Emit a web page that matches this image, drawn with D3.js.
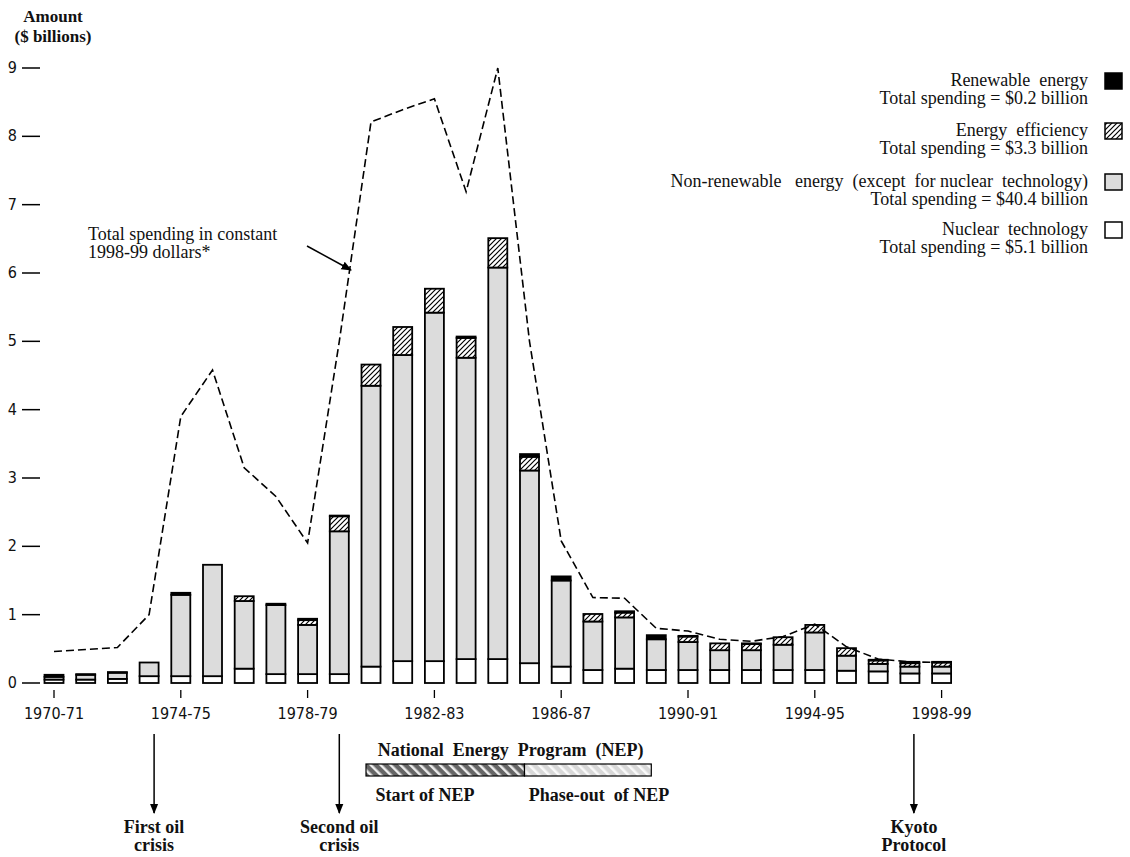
<!DOCTYPE html>
<html>
<head>
    <meta charset="utf-8">
    <script src="https://d3js.org/d3.v7.min.js"></script>
    <style>
        body { margin: 0; background: #fff; }
        svg { display: block; }
        text { white-space: pre; }
        .tick-text { font-family: "DejaVu Sans Condensed", "DejaVu Sans", sans-serif; font-stretch: condensed; font-size: 16px; fill: #111; }
        .note { font-family: "Liberation Serif", "DejaVu Serif", serif; font-size: 18px; fill: #111; }
        .bold { font-family: "Liberation Serif", "DejaVu Serif", serif; font-size: 18px; font-weight: bold; fill: #111; }
    </style>
</head>
<body>
<script>
/* chart data ($ billions) */
var years = ["1970-71","1971-72","1972-73","1973-74","1974-75","1975-76","1976-77","1977-78",
    "1978-79","1979-80","1980-81","1981-82","1982-83","1983-84","1984-85","1985-86","1986-87",
    "1987-88","1988-89","1989-90","1990-91","1991-92","1992-93","1993-94","1994-95","1995-96",
    "1996-97","1997-98","1998-99"];
var nuclear      = [0.05,0.05,0.06,0.10,0.10,0.10,0.21,0.13,0.13,0.13,0.24,0.32,0.32,0.35,0.35,0.29,0.24,
    0.19,0.21,0.19,0.19,0.19,0.19,0.19,0.19,0.18,0.17,0.14,0.14];
var nonRenewable = [0.04,0.07,0.09,0.20,1.19,1.63,0.99,1.01,0.72,2.09,4.11,4.48,5.10,4.41,5.73,2.82,1.26,
    0.71,0.75,0.45,0.41,0.29,0.29,0.37,0.55,0.22,0.11,0.10,0.10];
var efficiency   = [0,0,0,0,0,0,0.07,0,0.07,0.22,0.31,0.41,0.35,0.29,0.43,0.20,0,
    0.11,0.07,0,0.08,0.10,0.09,0.11,0.11,0.11,0.05,0.05,0.06];
var renewable    = [0.03,0.01,0.01,0,0.03,0,0,0.02,0.02,0.01,0,0,0,0.02,0,0.04,0.06,
    0,0.02,0.06,0.01,0,0.01,0,0,0,0.01,0.02,0.01];
var constantTotal = [0.46,0.49,0.52,1.0,3.9,4.58,3.15,2.73,2.05,5.0,8.21,8.39,8.55,7.19,9.0,5.0,2.08,
    1.25,1.24,0.8,0.76,0.64,0.61,0.68,0.86,0.53,0.35,0.31,0.3];
var yTicks = [0,1,2,3,4,5,6,7,8,9];
var xTickLabels = ["1970-71","1974-75","1978-79","1982-83","1986-87","1990-91","1994-95","1998-99"];

var legendItems = [
    {key: "renewable",    name: "Renewable  energy", total: "Total spending = $0.2 billion"},
    {key: "efficiency",   name: "Energy  efficiency", total: "Total spending = $3.3 billion"},
    {key: "nonRenewable", name: "Non-renewable   energy  (except  for nuclear  technology)", total: "Total spending = $40.4 billion"},
    {key: "nuclear",      name: "Nuclear  technology", total: "Total spending = $5.1 billion"}
];

/*global settings*/
var width = 1130;
var height = 857;
var barWidth = 19;
var keys = ["nuclear","nonRenewable","efficiency","renewable"];

var table = years.map(function(y, i){
    return {year: y, nuclear: nuclear[i], nonRenewable: nonRenewable[i],
        efficiency: efficiency[i], renewable: renewable[i], constant: constantTotal[i]};
});

var svg = d3.select("body").append("svg")
    .attr("width", width).attr("height", height);

/*patterns*/
var defs = svg.append("defs");
var hatch = defs.append("pattern").attr("id", "hatch")
    .attr("patternUnits", "userSpaceOnUse").attr("width", 5).attr("height", 5);
hatch.append("rect").attr("width", 5).attr("height", 5).attr("fill", "#fff");
hatch.append("path").attr("d", "M0,5 L5,0 M-1,1 L1,-1 M4,6 L6,4")
    .attr("stroke", "#000").attr("stroke-width", 1.2);

var nepDark = defs.append("pattern").attr("id", "nepDark")
    .attr("patternUnits", "userSpaceOnUse").attr("width", 7).attr("height", 7)
    .attr("patternTransform", "rotate(-45)");
nepDark.append("rect").attr("width", 7).attr("height", 7).attr("fill", "#666");
nepDark.append("rect").attr("width", 2.5).attr("height", 7).attr("fill", "#eee");

var nepLight = defs.append("pattern").attr("id", "nepLight")
    .attr("patternUnits", "userSpaceOnUse").attr("width", 7).attr("height", 7)
    .attr("patternTransform", "rotate(-45)");
nepLight.append("rect").attr("width", 7).attr("height", 7).attr("fill", "#d8d8d8");
nepLight.append("rect").attr("width", 2.5).attr("height", 7).attr("fill", "#fafafa");

var fills = {nuclear: "#fff", nonRenewable: "#dcdcdc", efficiency: "url(#hatch)", renewable: "#000"};

/*scales*/
var x = d3.scalePoint().domain(years).range([54, 941.6]);
var y = d3.scaleLinear().domain([0, 9]).range([683, 68]);

/*y axis: labels with a dash*/
var yAxis = svg.append("g").attr("class", "y-axis");
yTicks.forEach(function(t){
    yAxis.append("text").attr("class", "tick-text")
        .attr("x", 17).attr("y", y(t) + 5).attr("text-anchor", "end").text(t);
    yAxis.append("line").attr("x1", 22).attr("x2", 40)
        .attr("y1", y(t)).attr("y2", y(t)).attr("stroke", "#000").attr("stroke-width", 1.5);
});
svg.append("text").attr("class", "bold").style("font-size", "17px")
    .attr("x", 53).attr("y", 22).attr("text-anchor", "middle").text("Amount");
svg.append("text").attr("class", "bold").style("font-size", "17px")
    .attr("x", 53).attr("y", 42).attr("text-anchor", "middle").text("($ billions)");

/*x axis ticks every four years*/
var xAxis = svg.append("g").attr("class", "x-axis");
xTickLabels.forEach(function(l){
    xAxis.append("line").attr("x1", x(l)).attr("x2", x(l)).attr("y1", 690).attr("y2", 698)
        .attr("stroke", "#000").attr("stroke-width", 1.3);
    xAxis.append("text").attr("class", "tick-text")
        .attr("x", x(l)).attr("y", 719).attr("text-anchor", "middle").text(l);
});

/*stacked bars*/
var series = d3.stack().keys(keys)(table);
svg.append("g").selectAll("g").data(series).enter().append("g")
    .attr("fill", function(d){ return fills[d.key]; })
    .selectAll("rect").data(function(d){ return d.filter(function(s){ return s[1] - s[0] > 0; }); })
    .enter().append("rect")
    .attr("x", function(d){ return x(d.data.year) - barWidth / 2; })
    .attr("y", function(d){ return y(d[1]); })
    .attr("width", barWidth)
    .attr("height", function(d){ return y(d[0]) - y(d[1]); })
    .attr("stroke", "#000").attr("stroke-width", 1.8);

/*total in constant dollars*/
var line = d3.line()
    .x(function(d){ return x(d.year); })
    .y(function(d){ return y(d.constant); });
svg.append("path").datum(table).attr("d", line)
    .attr("fill", "none").attr("stroke", "#000").attr("stroke-width", 1.6)
    .attr("stroke-dasharray", "8,4");

/*arrow marker*/
defs.append("marker").attr("id", "arrow").attr("viewBox", "0 0 10 10")
    .attr("refX", 9).attr("refY", 5).attr("markerWidth", 7).attr("markerHeight", 7)
    .attr("orient", "auto-start-reverse")
    .append("path").attr("d", "M0,1 L10,5 L0,9 z").attr("fill", "#000");

svg.append("text").attr("class", "note").attr("x", 88).attr("y", 240).text("Total spending in constant");
svg.append("text").attr("class", "note").attr("x", 88).attr("y", 258).text("1998-99 dollars*");
svg.append("line").attr("x1", 307).attr("y1", 246).attr("x2", 351).attr("y2", 270)
    .attr("stroke", "#000").attr("stroke-width", 1.5).attr("marker-end", "url(#arrow)");

/*legend*/
var legend = svg.append("g").attr("class", "legend");
legendItems.forEach(function(item, i){
    var base = [86, 136, 187, 235][i];
    legend.append("text").attr("class", "note").attr("x", 1088).attr("y", base)
        .attr("text-anchor", "end").text(item.name);
    legend.append("text").attr("class", "note").attr("x", 1088).attr("y", base + 18)
        .attr("text-anchor", "end").text(item.total);
    legend.append("rect").attr("x", 1105).attr("y", base - 13).attr("width", 17).attr("height", 16)
        .attr("fill", fills[item.key]).attr("stroke", "#000").attr("stroke-width", 1.5);
});

/*events below the axis*/
function eventArrow(xPos, lines){
    svg.append("line").attr("x1", xPos).attr("x2", xPos).attr("y1", 734).attr("y2", 813)
        .attr("stroke", "#000").attr("stroke-width", 1.5).attr("marker-end", "url(#arrow)");
    lines.forEach(function(t, j){
        svg.append("text").attr("class", "bold").attr("x", xPos).attr("y", 833 + j * 18)
            .attr("text-anchor", "middle").text(t);
    });
}
eventArrow(x("1973-74") + 5, ["First oil", "crisis"]);
eventArrow(x("1979-80"), ["Second oil", "crisis"]);
eventArrow(x("1997-98") + 4, ["Kyoto", "Protocol"]);

/*national energy program bar*/
var nepStart = x("1980-81") - 5, nepMid = x("1985-86") - 5, nepEnd = x("1989-90") - 5;
svg.append("text").attr("class", "bold").attr("x", (nepStart + nepEnd) / 2 + 2).attr("y", 756)
    .attr("text-anchor", "middle").text("National  Energy  Program  (NEP)");
svg.append("rect").attr("x", nepStart).attr("y", 764).attr("width", nepMid - nepStart).attr("height", 12)
    .attr("fill", "url(#nepDark)").attr("stroke", "#000").attr("stroke-width", 1.2);
svg.append("rect").attr("x", nepMid).attr("y", 764).attr("width", nepEnd - nepMid).attr("height", 12)
    .attr("fill", "url(#nepLight)").attr("stroke", "#000").attr("stroke-width", 1.2);
svg.append("text").attr("class", "bold").attr("x", 425).attr("y", 801)
    .attr("text-anchor", "middle").text("Start of NEP");
svg.append("text").attr("class", "bold").attr("x", 599).attr("y", 801)
    .attr("text-anchor", "middle").text("Phase-out  of NEP");
</script>
</body>
</html>
